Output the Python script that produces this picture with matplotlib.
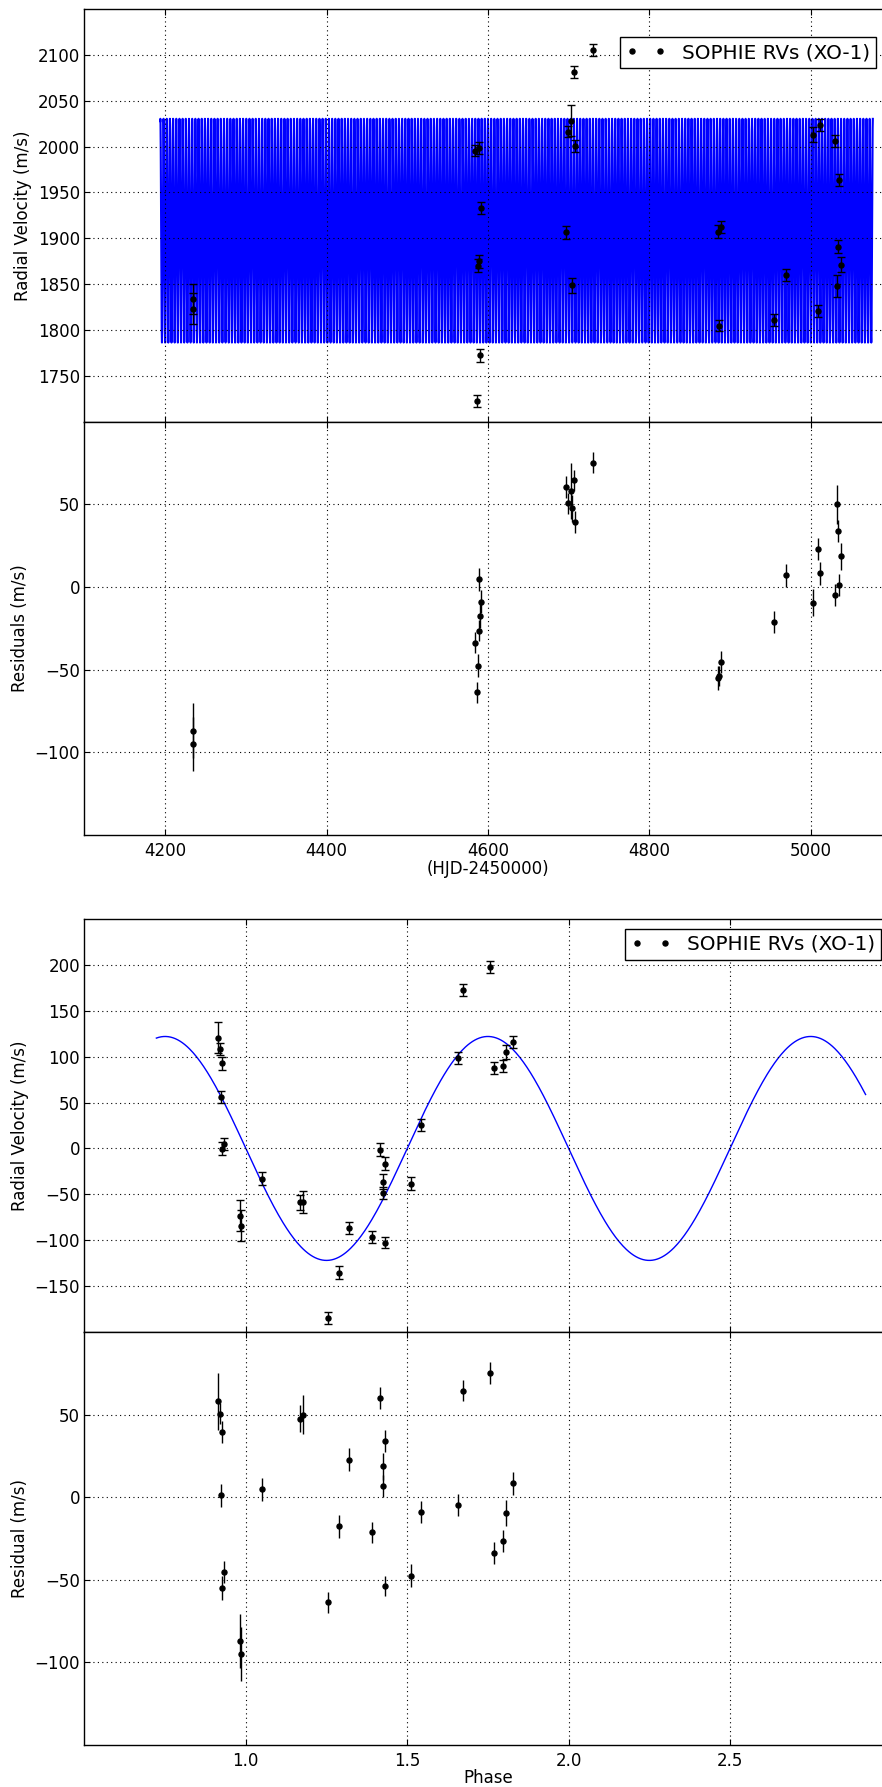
import numpy as np
import matplotlib
matplotlib.use("Agg")
import matplotlib.pyplot as plt

plt.rcParams.update({
    "font.family":        "DejaVu Sans",
    "font.size":          12,
    "figure.facecolor":   "white",
    "savefig.facecolor":  "white",
    "axes.facecolor":     "white",
    "axes.edgecolor":     "black",
    "axes.linewidth":     1.0,
    "axes.axisbelow":     False,
    "axes.formatter.useoffset": False,
    "xtick.direction":    "in",
    "ytick.direction":    "in",
    "xtick.top":          True,
    "ytick.right":        True,
    "xtick.major.size":   4,
    "ytick.major.size":   4,
    "xtick.major.pad":    5,
    "ytick.major.pad":    3,
    "grid.color":         "black",
    "grid.linestyle":     (0, (1, 3)),
    "grid.linewidth":     0.8,
    "legend.numpoints":   2,
    "legend.fancybox":    False,
    "legend.edgecolor":   "black",
    "legend.framealpha":  1.0,
})

# SOPHIE RVs of XO-1 (time order)
hjd = [4234.1, 4234.1, 4584.4, 4586.5, 4587.3, 4588.5, 4589.3, 4590.5, 4591.4,
       4697.1, 4699.6, 4703.3, 4704.2, 4706.2, 4707.9, 4730.2,
       4884.6, 4886.7, 4888.8, 4954.1, 4969.8,
       5002.8, 5008.9, 5011.0, 5030.1, 5032.0, 5033.3, 5035.1, 5037.1]
rv = [1834.0, 1823.4, 1995.7, 1722.8, 1870.0, 1998.3, 1874.7, 1772.2, 1932.9,
      1906.3, 2016.4, 2028.4, 1849.0, 2081.1, 2000.8, 2105.5,
      1907.1, 1804.6, 1912.2, 1811.1, 1859.9,
      2012.8, 1820.6, 2023.7, 2006.3, 1848.5, 1891.0, 1963.7, 1871.4]
rv_err = [16.5, 16.5, 6.5, 6.5, 7.0, 6.5, 7.0, 7.1, 6.9,
          6.7, 6.5, 17.1, 8.2, 6.5, 6.7, 6.4,
          7.1, 6.0, 6.7, 6.4, 6.7,
          8.0, 6.7, 6.9, 6.7, 12.0, 6.7, 6.9, 8.2]
resid = [-86.9, -95.0, -33.7, -63.7, -47.6, -26.4, 4.8, -17.6, -8.9,
         60.3, 50.6, 58.0, 47.6, 64.5, 39.3, 75.2,
         -54.9, -53.7, -45.2, -21.2, 7.0,
         -9.5, 22.8, 8.3, -4.9, 50.0, 34.0, 1.2, 18.7]
phase = [0.983, 0.986, 1.768, 1.256, 1.511, 1.798, 1.049, 1.289, 1.544,
         1.415, 0.920, 0.913, 1.168, 1.673, 0.927, 1.757,
         0.927, 1.432, 0.932, 1.392, 1.424,
         1.806, 1.319, 1.829, 1.658, 1.176, 1.431, 0.923, 1.424]
rv_fold = [-73.1, -84.0, 87.9, -184.9, -38.3, 90.1, -33.2, -135.2, 25.6,
           -1.3, 108.6, 120.6, -58.6, 173.1, 92.6, 197.5,
           -0.2, -102.9, 4.9, -96.7, -48.5,
           105.0, -86.9, 115.9, 98.5, -58.6, -16.5, 56.0, -36.1]

# circular-orbit model drawn in blue
GAMMA = 1908.3
K_AMP = 122.0
PERIOD = 3.9415
T_REF, PHI_REF = 4730.2, 0.757
MODEL_T = (4194.0, 5077.0)
MODEL_PHI = (0.723, 2.92)

t_mod = np.linspace(MODEL_T[0], MODEL_T[1], 30000)
v_mod = GAMMA - K_AMP * np.sin(2 * np.pi * ((t_mod - T_REF) / PERIOD + PHI_REF))
phi_mod = np.linspace(MODEL_PHI[0], MODEL_PHI[1], 600)
vphi_mod = -K_AMP * np.sin(2 * np.pi * phi_mod)

LABEL = "SOPHIE RVs (XO-1)"
W, H = 882, 1787
fig = plt.figure(figsize=(W / 100, H / 100), dpi=100)

def px_axes(top, bottom, left=84.4, right=891.4):
    return fig.add_axes([left / W, 1 - bottom / H, (right - left) / W, (bottom - top) / H])

ax1 = px_axes(9, 421.7)
ax2 = px_axes(421.7, 835)
ax3 = px_axes(919, 1332)
ax4 = px_axes(1332, 1745)

# --- time series ---
ax1.plot(t_mod, v_mod, color="b", lw=1.5, zorder=1)
ax1.errorbar(hjd, rv, yerr=rv_err, fmt="none", ecolor="k", elinewidth=1.0, capsize=3, zorder=3)
ax1.plot(hjd, rv, "ko", ms=3.6, label=LABEL, zorder=4)
ax1.set_xlim(4100, 5100)
ax1.set_ylim(1700, 2150)
ax1.set_xticks(np.arange(4200, 5001, 200))
ax1.set_yticks(np.arange(1750, 2101, 50))
ax1.tick_params(labelbottom=False)
ax1.set_ylabel("Radial Velocity (m/s)")
ax1.grid(True)
ax1.legend(loc="upper right", bbox_to_anchor=(0.9809, 0.9314), borderaxespad=0,
           fontsize=14.4, borderpad=0.3, handlelength=2.0, handletextpad=0.8)

ax2.errorbar(hjd, resid, yerr=rv_err, fmt="ko", ms=3.6, ecolor="k", elinewidth=1.0, capsize=0)
ax2.set_xlim(4100, 5100)
ax2.set_ylim(-150, 100)
ax2.set_xticks(np.arange(4200, 5001, 200))
ax2.set_yticks([-100, -50, 0, 50])
ax2.set_xlabel("(HJD-2450000)", labelpad=0)
ax2.set_ylabel("Residuals (m/s)")
ax2.grid(True)

# --- phase folded ---
ax3.plot(phi_mod, vphi_mod, color="b", lw=1.0, zorder=1)
ax3.errorbar(phase, rv_fold, yerr=rv_err, fmt="none", ecolor="k", elinewidth=1.0, capsize=3, zorder=3)
ax3.plot(phase, rv_fold, "ko", ms=3.6, label=LABEL, zorder=4)
ax3.set_xlim(0.5, 3.0)
ax3.set_ylim(-200, 250)
ax3.set_xticks([1.0, 1.5, 2.0, 2.5])
ax3.set_yticks(np.arange(-150, 201, 50))
ax3.tick_params(labelbottom=False)
ax3.set_ylabel("Radial Velocity (m/s)")
ax3.grid(True)
ax3.legend(loc="upper right", bbox_to_anchor=(0.9871, 0.9758), borderaxespad=0,
           fontsize=14.4, borderpad=0.3, handlelength=2.0, handletextpad=0.8)

ax4.errorbar(phase, resid, yerr=rv_err, fmt="ko", ms=3.6, ecolor="k", elinewidth=1.0, capsize=0)
ax4.set_xlim(0.5, 3.0)
ax4.set_ylim(-150, 100)
ax4.set_xticks([1.0, 1.5, 2.0, 2.5])
ax4.set_yticks([-100, -50, 0, 50])
ax4.set_xlabel("Phase", labelpad=-1)
ax4.set_ylabel("Residual (m/s)")
ax4.grid(True)

fig.savefig("out.png", dpi=100)
